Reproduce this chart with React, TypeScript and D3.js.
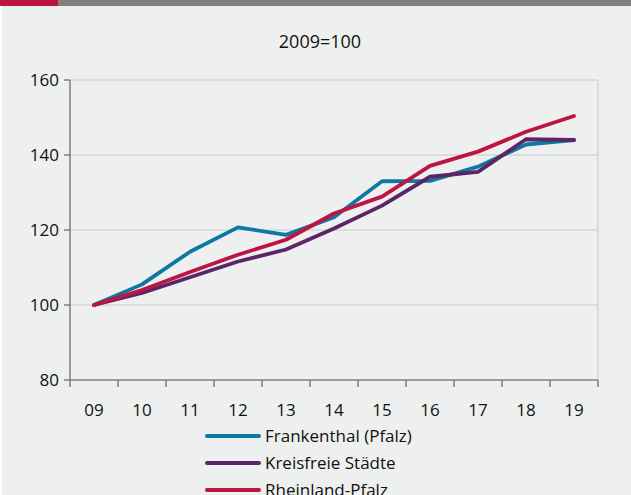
import React from 'react';
import * as d3 from 'd3';

const years = ['09', '10', '11', '12', '13', '14', '15', '16', '17', '18', '19'];
const frankenthal = [100, 105.5, 114.2, 120.7, 118.7, 123.4, 133, 133.1, 136.9, 142.8, 144];
const kreisfreie = [100, 103.2, 107.4, 111.6, 114.8, 120.4, 126.5, 134.2, 135.5, 144.2, 144];
const rheinland = [100, 104.0, 108.8, 113.4, 117.4, 124.4, 128.9, 137.1, 140.9, 146.2, 150.4];
const yTicks = [80, 100, 120, 140, 160];

const series = [
  { name: 'Frankenthal (Pfalz)', values: frankenthal, color: '#0e77a3' },
  { name: 'Kreisfreie Städte', values: kreisfreie, color: '#5b2566' },
  { name: 'Rheinland-Pfalz', values: rheinland, color: '#bd1441' },
];

const W = 631;
const H = 495;
const margin = { top: 80, right: 33, bottom: 115, left: 70 };
const font = '"Open Sans", "Noto Sans", sans-serif';

export default function App() {
  const x = d3.scaleBand().domain(years).range([margin.left, W - margin.right]);
  const y = d3.scaleLinear().domain([80, 160]).range([H - margin.bottom, margin.top]);
  const line = d3
    .line<number>()
    .x((_, i) => (x(years[i]) as number) + x.bandwidth() / 2)
    .y((d) => y(d));

  const x0 = margin.left;
  const x1 = W - margin.right;
  const yBase = y(80);

  return (
    <svg
      width={W}
      height={H}
      style={{ position: 'fixed', left: 0, top: 0, fontFamily: font }}
    >
      <rect x={0} y={0} width={W} height={H} fill="#eef0ef" />
      <rect x={0} y={6} width={2} height={H} fill="#ffffff" />
      <rect x={0} y={0} width={W} height={6} fill="#808080" />
      <rect x={0} y={0} width={58} height={6} fill="#bd1441" />

      <text x={320} y={48} textAnchor="middle" fontSize={18} fill="#111">
        2009=100
      </text>

      {/* grid */}
      {yTicks.slice(1).map((t) => (
        <line key={t} x1={x0} x2={x1} y1={y(t)} y2={y(t)} stroke="#c8c8c8" strokeWidth={1} />
      ))}
      <line x1={x1} x2={x1} y1={y(160)} y2={yBase} stroke="#c8c8c8" strokeWidth={1} />

      {/* y axis */}
      <line x1={x0} x2={x0} y1={y(160)} y2={yBase} stroke="#808080" strokeWidth={1.5} />
      {yTicks.map((t) => (
        <g key={t}>
          <line x1={x0 - 6} x2={x0} y1={y(t)} y2={y(t)} stroke="#808080" strokeWidth={1.5} />
          <text x={x0 - 11} y={y(t) + 6} textAnchor="end" fontSize={17} fill="#111">
            {t}
          </text>
        </g>
      ))}

      {/* x axis */}
      <line x1={x0} x2={x1} y1={yBase} y2={yBase} stroke="#808080" strokeWidth={1.5} />
      {years.map((yr) => (
        <line
          key={'t' + yr}
          x1={x(yr) as number}
          x2={x(yr) as number}
          y1={yBase}
          y2={yBase + 7}
          stroke="#808080"
          strokeWidth={1.5}
        />
      ))}
      <line x1={x1} x2={x1} y1={yBase} y2={yBase + 7} stroke="#808080" strokeWidth={1.5} />
      {years.map((yr) => (
        <text
          key={'l' + yr}
          x={(x(yr) as number) + x.bandwidth() / 2}
          y={yBase + 36}
          textAnchor="middle"
          fontSize={17}
          fill="#111"
        >
          {yr}
        </text>
      ))}

      {/* lines */}
      {series.map((s) => (
        <path
          key={s.name}
          d={line(s.values) as string}
          fill="none"
          stroke={s.color}
          strokeWidth={3.8}
          strokeLinejoin="round"
          strokeLinecap="round"
        />
      ))}

      {/* legend */}
      {series.map((s, i) => (
        <g key={'lg' + s.name} transform={`translate(0,${436 + i * 27})`}>
          <line x1={207} x2={259} y1={0} y2={0} stroke={s.color} strokeWidth={4} strokeLinecap="round" />
          <text x={265} y={6} fontSize={17} fill="#111">
            {s.name}
          </text>
        </g>
      ))}
    </svg>
  );
}
